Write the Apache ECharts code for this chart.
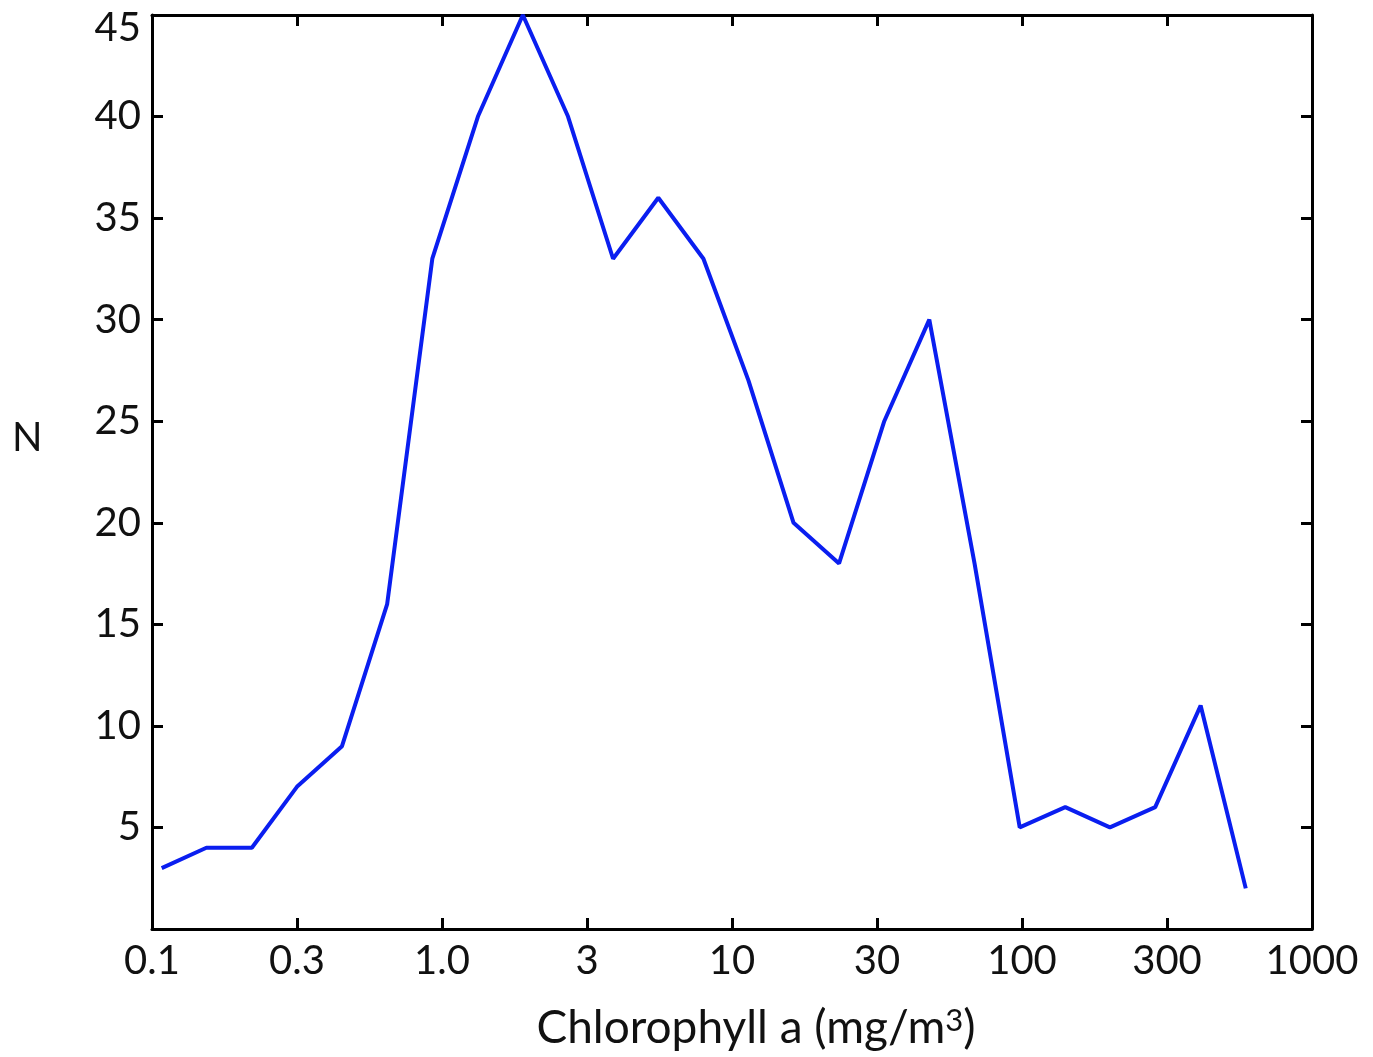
<!DOCTYPE html>
<html>
<head>
<meta charset="utf-8">
<title>Chlorophyll a distribution</title>
<script src="https://cdn.jsdelivr.net/npm/echarts@6/dist/echarts.min.js"></script>
<style>
  html, body { margin: 0; padding: 0; background: #ffffff; }
  #chart { width: 1373px; height: 1057px; }
</style>
</head>
<body>
<div id="chart"></div>
<script>
// Bin centres of chlorophyll a concentration (mg/m^3), log-spaced
const chlorophyll = [0.108, 0.154, 0.221, 0.316, 0.452, 0.647, 0.926, 1.33, 1.90, 2.72,
                     3.89, 5.57, 7.97, 11.4, 16.3, 23.4, 33.5, 47.9, 68.6, 98.2,
                     141, 201, 288, 413, 591];
// Number of observations per bin
const counts = [3, 4, 4, 7, 9, 16, 33, 40, 45, 40,
                33, 36, 33, 27, 20, 18, 25, 30, 18, 5,
                6, 5, 6, 11, 2];
// Half-decade tick labels from 0.1 to 1000
const xTickLabels = ['0.1', '0.3', '1.0', '3', '10', '30', '100', '300', '1000'];
const yTicks = { min: 0, max: 45, interval: 5 };

const FONT = 'Lato';
const TEXT_COLOR = '#111111';
const AXIS_COLOR = '#000000';
const TICK_FONT_SIZE = 40;

const points = chlorophyll.map((x, i) => [x, counts[i]]);

function xLabel(v) {
  const idx = Math.round(2 * Math.log10(v)) + 2;
  return xTickLabels[idx] !== undefined ? xTickLabels[idx] : '';
}

const baseLogAxis = {
  type: 'log',
  logBase: Math.sqrt(10),
  min: 0.1,
  max: 1000,
  interval: 1,
  axisLine: { show: true, onZero: false, lineStyle: { color: AXIS_COLOR, width: 3 } },
  axisTick: { show: true, inside: true, length: 11, lineStyle: { color: AXIS_COLOR, width: 3 } },
  splitLine: { show: false },
  minorTick: { show: false }
};

const baseValueAxis = {
  type: 'value',
  min: yTicks.min,
  max: yTicks.max,
  interval: yTicks.interval,
  axisLine: { show: true, onZero: false, lineStyle: { color: AXIS_COLOR, width: 3 } },
  axisTick: { show: true, inside: true, length: 11, lineStyle: { color: AXIS_COLOR, width: 3 } },
  splitLine: { show: false }
};

const chart = echarts.init(document.getElementById('chart'), null, { renderer: 'canvas' });

chart.setOption({
  backgroundColor: '#ffffff',
  animation: false,
  grid: { left: 152, right: 61, top: 15, bottom: 128, containLabel: false, outerBoundsMode: 'none' },
  xAxis: [
    Object.assign({}, baseLogAxis, {
      position: 'bottom',
      name: 'Chlorophyll a (mg/m{sup|3})',
      nameLocation: 'middle',
      nameGap: 76,
      nameTextStyle: {
        fontFamily: FONT, fontSize: 46, color: TEXT_COLOR, padding: [0, 0, 0, 48],
        rich: {
          sup: { fontFamily: FONT, fontSize: 31, color: TEXT_COLOR, verticalAlign: 'top', lineHeight: 46 }
        }
      },
      axisLabel: {
        show: true,
        margin: 12,
        fontFamily: FONT,
        fontSize: TICK_FONT_SIZE,
        color: TEXT_COLOR,
        formatter: xLabel,
        showMinLabel: true,
        showMaxLabel: true
      }
    }),
    Object.assign({}, baseLogAxis, {
      position: 'top',
      axisLabel: { show: false }
    })
  ],
  yAxis: [
    Object.assign({}, baseValueAxis, {
      position: 'left',
      axisLabel: {
        show: true,
        margin: 11,
        fontFamily: FONT,
        fontSize: TICK_FONT_SIZE,
        color: TEXT_COLOR,
        showMinLabel: false,
        formatter: v => (v === yTicks.max ? '{top|' + v + '}' : String(v)),
        rich: {
          top: { fontFamily: FONT, fontSize: TICK_FONT_SIZE, color: TEXT_COLOR, padding: [26, 0, 0, 0] }
        }
      }
    }),
    Object.assign({}, baseValueAxis, {
      position: 'right',
      axisLabel: { show: false }
    })
  ],
  graphic: [{
    type: 'text',
    left: 12,
    top: 418,
    style: { text: 'N', fontFamily: FONT, fontSize: 40, fill: TEXT_COLOR }
  }],
  series: [{
    type: 'line',
    xAxisIndex: 0,
    yAxisIndex: 0,
    data: points,
    showSymbol: false,
    symbol: 'none',
    lineStyle: { color: '#0a1ef0', width: 4 },
    z: 3
  }]
});
</script>
</body>
</html>
